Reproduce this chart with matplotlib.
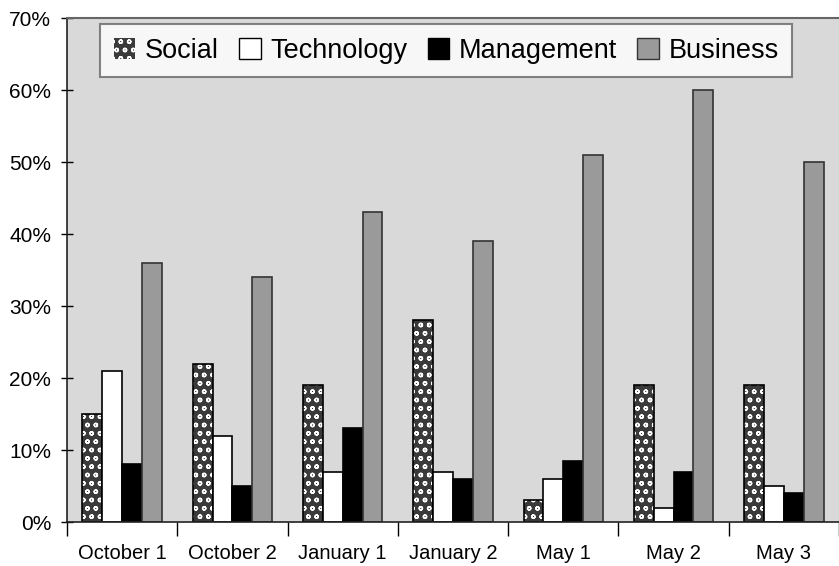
import numpy as np
import matplotlib.pyplot as plt
from matplotlib.patches import Patch

plt.rcParams['font.family'] = ['Liberation Sans', 'DejaVu Sans']
plt.rcParams['hatch.linewidth'] = 1.0

# survey sessions and share of answers per topic (percent)
sessions = ['October 1', 'October 2', 'January 1', 'January 2', 'May 1', 'May 2', 'May 3']
social = [15, 22, 19, 28, 3, 19, 19]
technology = [21, 12, 7, 7, 6, 2, 5]
management = [8, 5, 13, 6, 8.5, 7, 4]
business = [36, 34, 43, 39, 51, 60, 50]
y_ticks = [0, 10, 20, 30, 40, 50, 60, 70]

fig = plt.figure(figsize=(8.39, 5.66), dpi=100)
ax = fig.add_axes([67 / 839, 44 / 566, 772 / 839, 504 / 566])
ax.set_facecolor('#d9d9d9')

x = np.arange(len(sessions))
w = 0.18
offsets = [-1.5 * w, -0.5 * w, 0.5 * w, 1.5 * w]

# stippled social bars: dark fill with white dots, outline drawn on top
ax.bar(x + offsets[0], social, w, color='#3a3a3a', edgecolor='white', hatch='oo', linewidth=0)
ax.bar(x + offsets[0], social, w, fill=False, edgecolor='black', linewidth=1.2)
ax.bar(x + offsets[1], technology, w, color='white', edgecolor='black', linewidth=1.2)
ax.bar(x + offsets[2], management, w, color='black', edgecolor='black', linewidth=1.2)
ax.bar(x + offsets[3], business, w, color='#9a9a9a', edgecolor='#333333', linewidth=1.2)

ax.set_xlim(-0.5, len(sessions) - 0.5)
ax.set_ylim(0, 70)
ax.set_yticks(y_ticks)
ax.set_yticklabels([f'{v}%' for v in y_ticks], fontsize=15)
ax.tick_params(axis='y', direction='inout', length=9, width=1, pad=7)

# ticks sit between groups, labels at group centres
ax.set_xticks(np.arange(len(sessions) + 1) - 0.5)
ax.set_xticklabels([])
ax.set_xticks(x, minor=True)
ax.set_xticklabels(sessions, minor=True, fontsize=14.5)
ax.tick_params(axis='x', which='major', direction='out', length=10, width=1)
ax.tick_params(axis='x', which='minor', length=0, pad=16)

for side in ['left', 'bottom']:
    ax.spines[side].set_color('#222222')
    ax.spines[side].set_linewidth(1.2)
ax.spines['top'].set_color('#666666')
ax.spines['top'].set_linewidth(1.5)
ax.spines['right'].set_visible(False)

handles = [
    Patch(facecolor='#3a3a3a', edgecolor='white', hatch='oo', linewidth=0),
    Patch(facecolor='white', edgecolor='black'),
    Patch(facecolor='black', edgecolor='black'),
    Patch(facecolor='#9a9a9a', edgecolor='#333333'),
]
leg = ax.legend(handles, ['Social', 'Technology', 'Management', 'Business'],
                ncol=4, loc='upper left', bbox_to_anchor=(33 / 772, 0.988),
                fontsize=19.5, frameon=True, fancybox=False,
                handlelength=0.8, handleheight=0.8, handletextpad=0.35,
                columnspacing=0.75, borderpad=0.5, borderaxespad=0)
leg.get_frame().set_edgecolor('#666666')
leg.get_frame().set_linewidth(1.5)

fig.savefig('out.png', dpi=100)
